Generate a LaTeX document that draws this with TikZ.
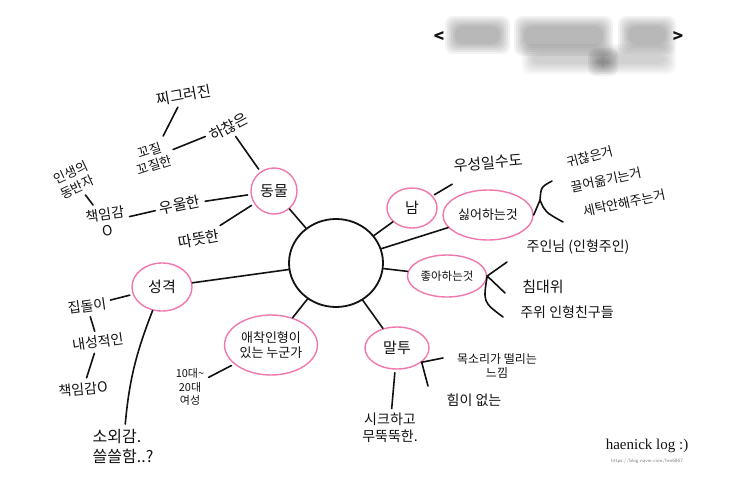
\documentclass[tikz,border=0pt]{standalone}
\usepackage{fontspec}
\setmainfont{Liberation Serif}
\newfontfamily\kr{Noto Sans CJK KR}
\usetikzlibrary{shapes.geometric}
\definecolor{pinkc}{RGB}{240,120,175}
\definecolor{inkc}{RGB}{18,18,18}
\newcommand\myblur[5]{%
  \foreach \d in {0,2,...,10}{\fill[black,opacity=#5,rounded corners=8pt] (#1-\d,#2-\d) rectangle (#3+\d,#4+\d);}}
\begin{document}
\begin{tikzpicture}[x=1pt,y=-1pt,
  lbl/.style={font=\kr\fontsize{15}{18}\selectfont, inner sep=1.5pt, align=center, text=inkc},
  fs/.style={font=\kr\fontsize{#1}{\dimexpr #1pt*6/5\relax}\selectfont},
  bubble/.style={ellipse, draw=pinkc, line width=1.4pt, inner sep=0pt, lbl},
  link/.style={draw=inkc, line width=1.6pt, line cap=round},
  gap/.style={shorten <=3pt, shorten >=3pt}
]
\useasboundingbox (0,0) rectangle (743,503);
\fill[white] (0,0) rectangle (743,503);

% blurred title
\myblur{455}{26}{500}{44}{0.05}
\myblur{524}{26}{603}{46}{0.05}
\myblur{628}{26}{666}{44}{0.05}
\myblur{532}{54}{666}{64}{0.03}
\myblur{598}{58}{608}{66}{0.06}
\node[lbl, font=\kr\bfseries\fontsize{17}{20}\selectfont] (lt) at (439,37) {<};
\node[lbl, font=\kr\bfseries\fontsize{17}{20}\selectfont] (gt) at (678,37) {>};

% hub and bubbles
\node[ellipse, draw=inkc, line width=1.8pt, minimum width=94pt, minimum height=88pt] (hub) at (336,263) {};
\node[bubble, minimum width=46pt, minimum height=46pt] (animal) at (274,191) {동물};
\node[bubble, minimum width=50pt, minimum height=40pt] (nam) at (412,208) {남};
\node[bubble, fs=13, minimum width=90pt, minimum height=50pt] (hate) at (488,215) {싫어하는것};
\node[bubble, fs=11.5, minimum width=76pt, minimum height=42pt] (like) at (447,276) {좋아하는것};
\node[bubble, minimum width=64pt, minimum height=42pt] (speech) at (397,348) {말투};
\node[bubble, fs=13, minimum width=92pt, minimum height=60pt] (doll) at (271,345) {애착인형이\\있는 누군가};
\node[bubble, minimum width=60pt, minimum height=48pt] (pers) at (162,287) {성격};

% labels
\node[lbl, rotate=10] (zz) at (184,95) {찌그러진};
\node[lbl, fs=13, rotate=18] (kk) at (152,158) {꼬질\\꼬질한};
\node[lbl, rotate=28] (hc) at (229,127) {하찮은};
\node[lbl, fs=13, rotate=25] (life) at (74,180) {인생의\\동반자};
\node[lbl, fs=14, rotate=8] (resp1) at (106,222) {책임감\\O};
\node[lbl, rotate=12] (dep) at (180,205) {우울한};
\node[lbl, rotate=10] (warm) at (199,239) {따뜻한};
\node[lbl, rotate=5] (dom) at (488,163) {우성일수도};
\node[lbl, fs=13, rotate=15] (h1) at (590,157) {귀찮은거};
\node[lbl, fs=13, rotate=12] (h2) at (606,180) {끌어옮기는거};
\node[lbl, fs=13, rotate=12] (h3) at (624,203) {세탁안해주는거};
\node[lbl, fs=14] (l1) at (578,247) {주인님 (인형주인)};
\node[lbl] (l2) at (543,287) {침대위};
\node[lbl, fs=14] (l3) at (567,312) {주위 인형친구들};
\node[lbl, fs=14, rotate=8] (home) at (87,306) {집돌이};
\node[lbl, fs=14, rotate=8] (intro) at (98,342) {내성적인};
\node[lbl, fs=14, rotate=5] (resp2) at (83,389) {책임감O};
\node[lbl, fs=11] (age) at (190,387) {10대\textasciitilde\\20대\\여성};
\node[lbl, fs=16, align=left, anchor=north west] (lone) at (91,428) {소외감.\\쓸쓸함..?};
\node[lbl, fs=14] (chic) at (390,428) {시크하고\\무뚝뚝한.};
\node[lbl, fs=12] (voice) at (497,366) {목소리가 떨리는\\느낌};
\node[lbl, fs=14] (weak) at (474,400) {힘이 없는};
\node[lbl, font=\fontsize{15}{17}\selectfont] (brand) at (647,446) {haenick log :)};
\node[lbl, font=\sffamily\fontsize{5}{6}\selectfont, text=gray] (url) at (647,461) {https://blog.naver.com/hm6867};

% hub connectors
\draw[link] (hub) -- (animal);
\draw[link] (hub) -- (nam);
\draw[link] (hub) -- (hate);
\draw[link] (hub) -- (like);
\draw[link] (hub) -- (speech);
\draw[link] (hub) -- (doll);
\draw[link] (hub) -- (pers);

% animal branch
\draw[link,gap] (animal) -- (hc);
\draw[link,gap] (animal) -- (dep);
\draw[link,gap] (animal) -- (warm);
\draw[link,gap] (kk) -- (hc);
\draw[link,gap] (kk) -- (zz);
\draw[link,gap] (dep) -- (resp1);
\draw[link,gap] (life) -- (resp1);

% personality branch
\draw[link,gap] (pers) -- (home);
\draw[link,shorten >=4pt] (pers) to[bend right=8] (lone);
\draw[link,gap] (home) -- (intro);
\draw[link,gap] (intro) -- (resp2);

% doll / speech
\draw[link,gap] (doll) -- (age);
\draw[link,gap] (speech) -- (chic);
\coordinate (sb) at (speech.-30);
\coordinate (sbh) at (443,358);
\coordinate (sbv) at (428,386);
\draw[link] (sbh) -- (sb) -- (sbv);

% nam
\draw[link,shorten <=2pt,shorten >=22pt] (nam) -- (dom);

% hate bracket
\coordinate (hbt) at (552,181);
\coordinate (hbm) at (540,200);
\coordinate (hbb) at (563,222);
\draw[link] (hbt) .. controls (541,187) .. (hbm) .. controls (545,212) .. (hbb);
\draw[link] (hate.east) -- (hbm);

% like bracket
\coordinate (lb1) at (507,262);
\coordinate (lb2) at (505,293);
\coordinate (lb3) at (503,317);
\draw[link] (like.east) -- (lb1);
\draw[link] (like.east) -- (lb2);
\draw[link] (like.east) .. controls (483,302) .. (lb3);
\end{tikzpicture}
\end{document}
